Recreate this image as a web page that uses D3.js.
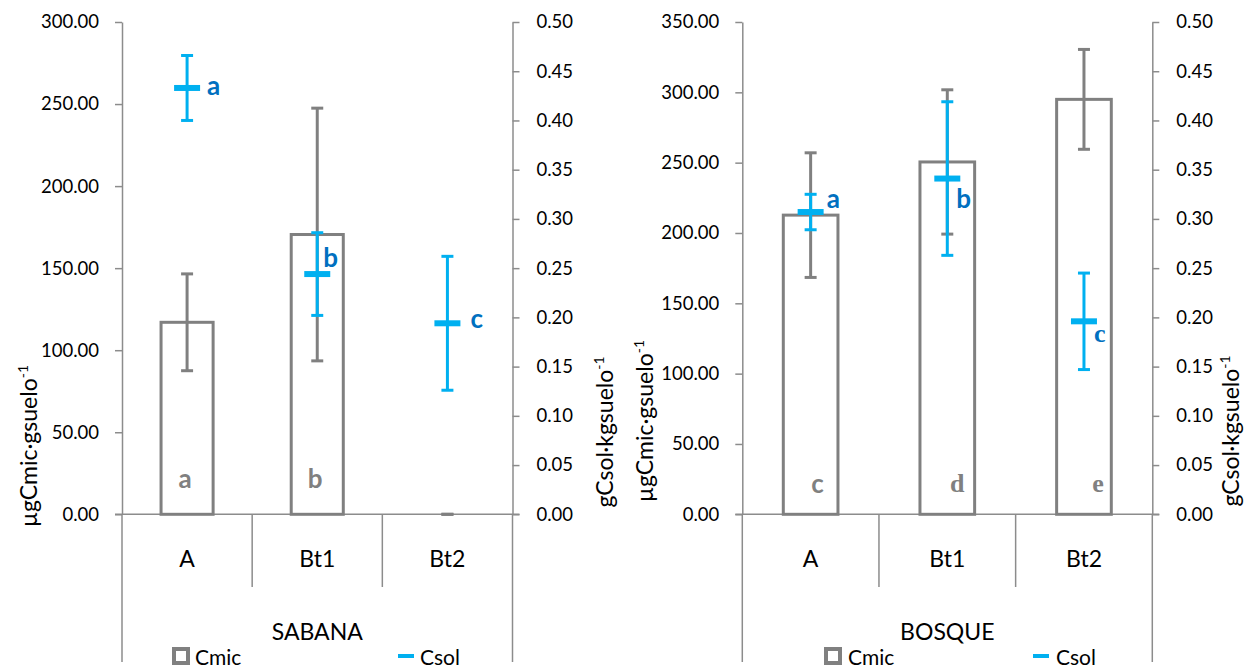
<!DOCTYPE html>
<html>
<head>
<meta charset="utf-8">
<script src="https://cdn.jsdelivr.net/npm/d3@7"></script>
<style>
  html, body { margin: 0; padding: 0; background: #ffffff; }
  svg { display: block; font-family: Lato, "Open Sans", sans-serif; }
</style>
</head>
<body>
<svg id="chart" width="1247" height="669"></svg>
<script>
// Soil horizons shared by both sites
const horizons = ["A", "Bt1", "Bt2"];

// SABANA: microbial carbon (µg/g) and soil carbon (g/kg) with their errors
const sabanaCmic = [117, 170.5, 0];
const sabanaCmicErr = [29.5, 77, 0];
const sabanaCsol = [0.433, 0.244, 0.194];
const sabanaCsolErr = [0.033, 0.042, 0.068];
const sabanaCmicLetters = ["a", "b", ""];
const sabanaCsolLetters = ["a", "b", "c"];

// BOSQUE
const bosqueCmic = [212.7, 250.5, 295];
const bosqueCmicErr = [44.3, 51.3, 35.5];
const bosqueCsol = [0.307, 0.341, 0.196];
const bosqueCsolErr = [0.018, 0.078, 0.049];
const bosqueCmicLetters = ["c", "d", "e"];
const bosqueCsolLetters = ["a", "b", "c"];

// Axis ticks
const sabanaCmicTicks = [0, 50, 100, 150, 200, 250, 300];
const bosqueCmicTicks = [0, 50, 100, 150, 200, 250, 300, 350];
const csolTicks = [0, 0.05, 0.10, 0.15, 0.20, 0.25, 0.30, 0.35, 0.40, 0.45, 0.50];

const groupNames = ["SABANA", "BOSQUE"];
const seriesNames = ["Cmic", "Csol"];
const leftTitle = "µgCmic·gsuelo";
const rightTitle = "gCsol·kgsuelo";

const GRAY_AXIS = "#8c8c8c";
const GRAY_BAR = "#808080";
const BLUE = "#00b0f0";
const BLUE_TEXT = "#0070c0";
const SANS = "Lato, 'Open Sans', sans-serif";
const SERIF = "'Liberation Serif', 'DejaVu Serif', serif";

const yTop = 22, yBottom = 514.3;

const panels = [
  {
    name: groupNames[0], x0: 122, x1: 512.5, cmicMax: 300, cmicTicks: sabanaCmicTicks,
    cmic: sabanaCmic, cmicErr: sabanaCmicErr, csol: sabanaCsol, csolErr: sabanaCsolErr,
    cmicLetters: sabanaCmicLetters, csolLetters: sabanaCsolLetters,
    cmicLetterFont: [SANS, SANS, SANS], csolLetterFont: [SANS, SANS, SANS],
    cmicLetterPos: [[-2, 488], [-2, 488], [0, 488]],
    csolLetterPos: [[20, 7], [6, -7], [23, 5]],
    leftTitlePos: [37, 446], rightTitlePos: [613, 432],
    legend: { box: 172, cmicText: 195, dash: 398, csolText: 420 }
  },
  {
    name: groupNames[1], x0: 742.3, x1: 1152.3, cmicMax: 350, cmicTicks: bosqueCmicTicks,
    cmic: bosqueCmic, cmicErr: bosqueCmicErr, csol: bosqueCsol, csolErr: bosqueCsolErr,
    cmicLetters: bosqueCmicLetters, csolLetters: bosqueCsolLetters,
    cmicLetterFont: [SANS, SERIF, SERIF], csolLetterFont: [SANS, SANS, SERIF],
    cmicLetterPos: [[7, 493], [10, 492], [14, 492]],
    csolLetterPos: [[16, -4], [9, 29], [10, 21]],
    leftTitlePos: [653, 421], rightTitlePos: [1239, 431],
    legend: { box: 824, cmicText: 848, dash: 1033, csolText: 1056 }
  }
];

const svg = d3.select("#chart");

function rotatedTitle(g, text, pos) {
  const t = g.append("text")
    .attr("transform", `translate(${pos[0]},${pos[1]}) rotate(-90)`)
    .attr("text-anchor", "middle")
    .attr("font-size", 23)
    .attr("fill", "#000");
  t.append("tspan").text(text);
  t.append("tspan").attr("font-size", 14).attr("dy", -9).text("-1");
}

function styleAxis(sel) {
  sel.select(".domain").attr("stroke", GRAY_AXIS).attr("stroke-width", 1.5);
  sel.selectAll(".tick line").attr("stroke", GRAY_AXIS).attr("stroke-width", 1.5);
  sel.selectAll(".tick text").attr("font-size", 18.5).attr("fill", "#000")
    .attr("font-family", SANS);
}

function drawPanel(p) {
  const g = svg.append("g");
  const y = d3.scaleLinear().domain([0, p.cmicMax]).range([yBottom, yTop]);
  const y2 = d3.scaleLinear().domain([0, 0.5]).range([yBottom, yTop]);
  const x = d3.scaleBand().domain(horizons).range([p.x0, p.x1])
    .paddingInner(0.6).paddingOuter(0.3);
  const edge = d3.scaleLinear().domain([0, horizons.length]).range([p.x0, p.x1]);
  const cx = d => x(d) + x.bandwidth() / 2;

  // value axes
  g.append("g").attr("transform", `translate(${p.x0},0)`)
    .call(d3.axisLeft(y).tickValues(p.cmicTicks).tickFormat(d3.format(".2f"))
      .tickSize(7).tickSizeOuter(0).tickPadding(16))
    .call(styleAxis);
  g.append("g").attr("transform", `translate(${p.x1},0)`)
    .call(d3.axisRight(y2).tickValues(csolTicks).tickFormat(d3.format(".2f"))
      .tickSize(7).tickSizeOuter(0).tickPadding(17))
    .call(styleAxis);

  // category axis with horizon and site levels
  g.append("line")
    .attr("x1", p.x0 - 7).attr("x2", p.x1 + 7)
    .attr("y1", yBottom).attr("y2", yBottom)
    .attr("stroke", GRAY_AXIS).attr("stroke-width", 1.5);
  g.selectAll(".divider").data(d3.range(horizons.length + 1)).join("line")
    .attr("x1", i => edge(i)).attr("x2", i => edge(i))
    .attr("y1", yBottom)
    .attr("y2", i => (i === 0 || i === horizons.length) ? 662 : 587)
    .attr("stroke", GRAY_AXIS).attr("stroke-width", 1.5);
  g.selectAll(".cat").data(horizons).join("text")
    .attr("x", cx).attr("y", 558)
    .attr("text-anchor", "middle").attr("dominant-baseline", "central")
    .attr("font-size", 23).attr("fill", "#000").text(d => d);
  g.append("text")
    .attr("x", (p.x0 + p.x1) / 2).attr("y", 631)
    .attr("text-anchor", "middle").attr("dominant-baseline", "central")
    .attr("font-size", 23).attr("fill", "#000").text(p.name);

  // Cmic bars
  const cmicRows = horizons.map((h, i) => ({ h, v: p.cmic[i], e: p.cmicErr[i], i }));
  g.selectAll(".bar").data(cmicRows.filter(d => d.v > 0)).join("rect")
    .attr("x", d => x(d.h)).attr("width", x.bandwidth())
    .attr("y", d => y(d.v)).attr("height", d => yBottom - y(d.v))
    .attr("fill", "#fff").attr("stroke", GRAY_BAR).attr("stroke-width", 3);

  const errG = g.append("g").attr("stroke", GRAY_BAR).attr("stroke-width", 3);
  cmicRows.forEach(d => {
    const c = cx(d.h);
    errG.append("line").attr("x1", c).attr("x2", c)
      .attr("y1", y(d.v - d.e)).attr("y2", y(d.v + d.e));
    [d.v - d.e, d.v + d.e].forEach(v => {
      errG.append("line").attr("x1", c - 6).attr("x2", c + 6)
        .attr("y1", y(v)).attr("y2", y(v));
    });
  });

  // Cmic significance letters inside bars
  cmicRows.forEach(d => {
    g.append("text")
      .attr("x", cx(d.h) + p.cmicLetterPos[d.i][0]).attr("y", p.cmicLetterPos[d.i][1])
      .attr("text-anchor", "middle")
      .attr("font-family", p.cmicLetterFont[d.i])
      .attr("font-weight", "bold").attr("font-size", 26)
      .attr("fill", GRAY_BAR).text(p.cmicLetters[d.i]);
  });

  // Csol means with error bars
  const csolRows = horizons.map((h, i) => ({ h, v: p.csol[i], e: p.csolErr[i], i }));
  const solG = g.append("g").attr("stroke", BLUE);
  csolRows.forEach(d => {
    const c = cx(d.h);
    solG.append("line").attr("x1", c).attr("x2", c).attr("stroke-width", 3)
      .attr("y1", y2(d.v - d.e)).attr("y2", y2(d.v + d.e));
    [d.v - d.e, d.v + d.e].forEach(v => {
      solG.append("line").attr("x1", c - 6).attr("x2", c + 6).attr("stroke-width", 3)
        .attr("y1", y2(v)).attr("y2", y2(v));
    });
    solG.append("line").attr("x1", c - 13).attr("x2", c + 13).attr("stroke-width", 6)
      .attr("y1", y2(d.v)).attr("y2", y2(d.v));
    g.append("text")
      .attr("x", c + p.csolLetterPos[d.i][0]).attr("y", y2(d.v) + p.csolLetterPos[d.i][1])
      .attr("font-family", p.csolLetterFont[d.i])
      .attr("font-weight", "bold").attr("font-size", 26)
      .attr("fill", BLUE_TEXT).text(p.csolLetters[d.i]);
  });

  // axis titles
  rotatedTitle(g, leftTitle, p.leftTitlePos);
  rotatedTitle(g, rightTitle, p.rightTitlePos);

  // legend
  const L = p.legend, ly = 656;
  g.append("rect").attr("x", L.box + 2).attr("y", ly - 7).attr("width", 14).attr("height", 14)
    .attr("fill", "#fff").attr("stroke", GRAY_BAR).attr("stroke-width", 4);
  g.append("text").attr("x", L.cmicText).attr("y", ly).attr("dominant-baseline", "central")
    .attr("font-size", 21).attr("fill", "#000").text(seriesNames[0]);
  g.append("line").attr("x1", L.dash).attr("x2", L.dash + 16).attr("y1", ly).attr("y2", ly)
    .attr("stroke", BLUE).attr("stroke-width", 4);
  g.append("text").attr("x", L.csolText).attr("y", ly).attr("dominant-baseline", "central")
    .attr("font-size", 21).attr("fill", "#000").text(seriesNames[1]);
}

panels.forEach(drawPanel);
</script>
</body>
</html>
